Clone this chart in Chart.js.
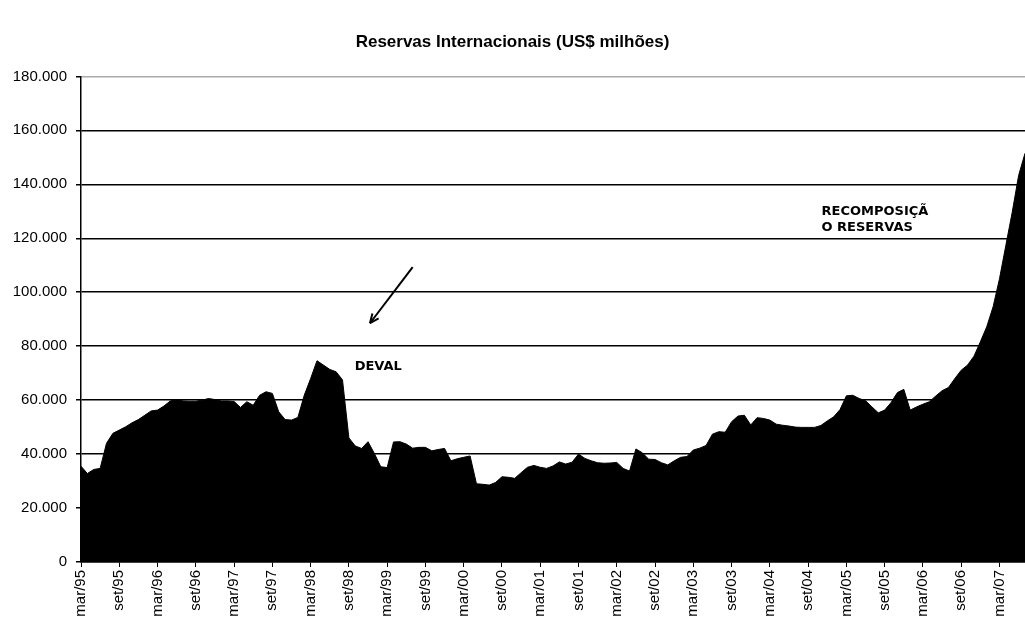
<!DOCTYPE html>
<html>
<head>
<meta charset="utf-8">
<script src="https://cdn.jsdelivr.net/npm/chart.js@4"></script>
<style>
  html, body { margin: 0; padding: 0; background: #fff; overflow: hidden; }
  #wrap { width: 1025px; height: 625px; }
</style>
</head>
<body>
<div id="wrap"><canvas id="reservasChart"></canvas></div>
<script>
// dados: reservas internacionais mensais, mar/95 a jul/07 (US$ milhões)
const meses = ['jan', 'fev', 'mar', 'abr', 'mai', 'jun', 'jul', 'ago', 'set', 'out', 'nov', 'dez'];
const anos = ['95', '96', '97', '98', '99', '00', '01', '02', '03', '04', '05', '06', '07'];
const reservas = [
  35500, 32800, 34300, 34700, 44000, 47700, 48900, 50100, 51600, 52800,
  54400, 56000, 56300, 57800, 59700, 60200, 59700, 59600, 59600, 60000,
  60600, 60200, 59700, 59700, 59500, 57300, 59400, 58100, 61800, 63100,
  62500, 55700, 52800, 52600, 53600, 61800, 68000, 74600, 73000, 71400,
  70500, 67500, 46000, 43000, 42100, 44600, 40200, 35300, 35000, 44500,
  44600, 43700, 42200, 42500, 42500, 41200, 41700, 42100, 37500, 38300,
  38800, 39300, 29000, 28800, 28500, 29500, 31600, 31400, 31000, 33100,
  35100, 35800, 35100, 34700, 35600, 37100, 36300, 37000, 40000, 38400,
  37500, 36800, 36600, 36700, 36900, 34700, 33700, 41900, 40500, 38100,
  38000, 36800, 36000, 37500, 38800, 39100, 41500, 42200, 43200, 47400,
  48300, 48100, 52000, 54100, 54400, 50800, 53500, 53200, 52600, 51100,
  50700, 50400, 50000, 49900, 49900, 49900, 50600, 52300, 53800, 56500,
  61600, 61800, 60600, 59800, 57500, 55300, 56300, 59100, 62800, 64000,
  56300, 57500, 58500, 59400, 61500, 63500, 64700, 68000, 71100, 73000,
  76300, 81600, 87200, 94600, 105000, 117400, 129700, 143300, 151500
];
const yMax = 180000;
const yStep = 20000;

// rótulos mensais: mar/95 em diante
const labels = [];
for (let k = 0; k < reservas.length; k++) {
  const m = (2 + k) % 12;
  const a = Math.floor((2 + k) / 12);
  labels.push(meses[m] + '/' + anos[a]);
}

// anotações (posição em índice do mês e valor)
const notas = [
  { text: 'DEVAL', i: 42.9, v: 72600 },
  { text: 'RECOMPOSIÇÃ', i: 116.1, v: 130000 },
  { text: 'O RESERVAS', i: 116.1, v: 124100 }
];
const seta = { de: { i: 52.0, v: 109300 }, para: { i: 45.3, v: 88500 } };

function fmt(n) {
  return String(n).replace(/\B(?=(\d{3})+(?!\d))/g, '.');
}

const anotacoes = {
  id: 'anotacoes',
  afterDatasetsDraw(chart) {
    const c = chart.ctx;
    const xs = chart.scales.x, ys = chart.scales.y;
    c.save();
    c.fillStyle = '#000';
    c.font = 'bold 13px "DejaVu Sans", Arial, sans-serif';
    c.textAlign = 'left';
    c.textBaseline = 'middle';
    notas.forEach(n => {
      c.fillText(n.text, xs.getPixelForValue(n.i), ys.getPixelForValue(n.v));
    });
    // seta
    const x1 = xs.getPixelForValue(seta.de.i), y1 = ys.getPixelForValue(seta.de.v);
    const x2 = xs.getPixelForValue(seta.para.i), y2 = ys.getPixelForValue(seta.para.v);
    c.strokeStyle = '#000';
    c.lineWidth = 2;
    c.beginPath();
    c.moveTo(x1, y1);
    c.lineTo(x2, y2);
    c.stroke();
    const ang = Math.atan2(y2 - y1, x2 - x1);
    const L = 10;
    c.beginPath();
    c.moveTo(x2, y2);
    c.lineTo(x2 - L * Math.cos(ang - 0.4), y2 - L * Math.sin(ang - 0.4));
    c.moveTo(x2, y2);
    c.lineTo(x2 - L * Math.cos(ang + 0.4), y2 - L * Math.sin(ang + 0.4));
    c.stroke();
    c.restore();
  }
};

const ctx = document.getElementById('reservasChart').getContext('2d');
new Chart(ctx, {
  type: 'line',
  data: {
    labels: labels,
    datasets: [{
      data: reservas,
      fill: 'origin',
      backgroundColor: '#000',
      borderColor: '#000',
      borderWidth: 1,
      pointRadius: 0,
      tension: 0
    }]
  },
  options: {
    responsive: true,
    maintainAspectRatio: false,
    animation: false,
    layout: { padding: { left: 0, right: 0, top: 0, bottom: 0 } },
    plugins: {
      legend: { display: false },
      tooltip: { enabled: false },
      title: {
        display: true,
        text: 'Reservas Internacionais (US$ milhões)',
        color: '#000',
        font: { family: '"Liberation Sans", Arial, sans-serif', size: 17, weight: 'bold' },
        padding: { top: 32, bottom: 24 }
      }
    },
    scales: {
      x: {
        offset: false,
        grid: { drawOnChartArea: false, drawTicks: true, tickLength: 5, color: '#000', tickColor: '#000' },
        border: { display: true, color: '#000', width: 1.5 },
        ticks: {
          autoSkip: false,
          minRotation: 90,
          maxRotation: 90,
          padding: 3,
          color: '#000',
          font: { family: '"Liberation Sans", Arial, sans-serif', size: 15 },
          callback: (v, i) => (i % 6 === 0 ? labels[i] : null)
        },
        afterFit(scale) {
          scale.height = 63;
          scale.paddingLeft = 0;
          scale.paddingRight = 0;
        }
      },
      y: {
        min: 0,
        max: yMax,
        grid: {
          color: c => (c.tick && c.tick.value === yMax ? '#aaa' : '#000'),
          lineWidth: 1.5,
          tickLength: 5,
          tickColor: '#000'
        },
        border: { display: true, color: '#000', width: 1.5 },
        ticks: {
          stepSize: yStep,
          padding: 9,
          color: '#000',
          font: { family: '"Liberation Sans", Arial, sans-serif', size: 15 },
          callback: v => fmt(v)
        },
        afterFit(scale) {
          scale.width = 81;
        }
      }
    }
  },
  plugins: [anotacoes]
});
</script>
</body>
</html>
